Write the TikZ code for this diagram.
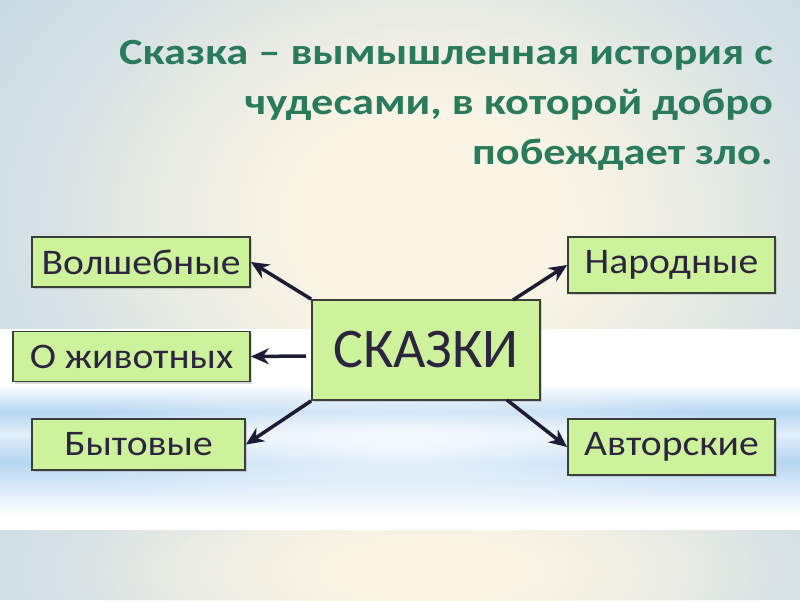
\documentclass[tikz,border=0pt]{standalone}
\usepackage{fontspec}
\setmainfont{Carlito}
\newfontfamily\boxfont[FakeStretch=1.1]{Carlito}
\newfontfamily\titlefont[FakeStretch=1.2]{Carlito}
\usetikzlibrary{arrows.meta,shadows,fadings}
\tikzfading[name=softcirc, inner color=transparent!0, outer color=transparent!100]
\definecolor{titlegreen}{HTML}{2A7B5C}
\definecolor{boxfill}{HTML}{CCF29C}
\definecolor{boxline}{HTML}{3A3F3A}
\definecolor{boxtext}{HTML}{2D2540}
\definecolor{arrowcol}{HTML}{1C1C35}
\definecolor{edgeblue}{HTML}{C6D9E6}
\definecolor{cream}{HTML}{FCF6E4}
\definecolor{stripeblue}{HTML}{B5D6F1}
\tikzset{
  catbox/.style={draw=boxline, line width=1.8pt, fill=boxfill, text=boxtext,
    font=\boxfont\fontsize{36}{36}\selectfont, inner sep=0pt,
    drop shadow={shadow xshift=2pt, shadow yshift=-2pt, opacity=0.3, fill=gray}},
  mainbox/.style={catbox, font=\fontsize{56}{56}\selectfont},
  conn/.style={draw=arrowcol, line width=3.5pt,
    -{Stealth[length=18pt, width=16pt, inset=6pt]}},
  titletext/.style={text=titlegreen, font=\titlefont\bfseries\fontsize{37}{50}\selectfont,
    align=right, inner sep=0pt, anchor=north east}
}
\begin{document}
\begin{tikzpicture}[x=1pt, y=-1pt]
\useasboundingbox (0,0) rectangle (800,600);
% background, top and bottom bands
\fill[edgeblue] (0,0) rectangle (800,600);
\begin{scope}
\clip (0,0) rectangle (800,329);
\fill[cream, path fading=softcirc] (430,220) ellipse [x radius=560, y radius=420];
\fill[cream, path fading=softcirc] (430,220) ellipse [x radius=380, y radius=300];
\fill[cream, path fading=softcirc] (430,220) ellipse [x radius=240, y radius=200];
\end{scope}
\begin{scope}
\clip (0,530) rectangle (800,600);
\fill[cream, path fading=softcirc] (430,570) ellipse [x radius=540, y radius=170];
\fill[cream, path fading=softcirc] (430,570) ellipse [x radius=350, y radius=120];
\end{scope}
% white band with blue stripes
\fill[white] (0,329) rectangle (800,530);
\shade[top color=white, bottom color=stripeblue] (0,385) rectangle (800,412);
\shade[top color=stripeblue, bottom color=white!60!stripeblue] (0,412) rectangle (800,434);
\shade[top color=white!60!stripeblue, bottom color=stripeblue] (0,434) rectangle (800,462);
\shade[top color=stripeblue, bottom color=white] (0,462) rectangle (800,514);
\fill[white, path fading=softcirc, fill opacity=0.8] (400,445) ellipse [x radius=360, y radius=70];
% title
\node[titletext] (title) at (773,40) {Сказка – вымышленная история с\\чудесами, в которой добро\\побеждает зло.};
% boxes
\node[mainbox, minimum width=228pt, minimum height=100pt] (skazki) at (426,350) {СКАЗКИ};
\node[catbox, minimum width=218pt, minimum height=50pt] (volsh) at (141,262) {Волшебные};
\node[catbox, minimum width=237pt, minimum height=50pt] (ozhiv) at (131.5,356.5) {О животных};
\node[catbox, minimum width=213pt, minimum height=51pt] (byt) at (138.5,444.5) {Бытовые};
\node[catbox, minimum width=207pt, minimum height=56pt] (narod) at (671.5,265) {Народные};
\node[catbox, minimum width=207pt, minimum height=56pt] (avtor) at (671.5,447) {Авторские};
% connectors
\coordinate (sW) at (306,356);
\coordinate (sNE) at (513,300);
\coordinate (sSE) at (507,400);
\draw[conn] (skazki.north west) -- (volsh.east);
\draw[conn] (sW) -- (ozhiv.east);
\draw[conn] (skazki.south west) -- (byt.east);
\draw[conn] (sNE) -- (narod.west);
\draw[conn] (sSE) -- (avtor.west);
\end{tikzpicture}
\end{document}
